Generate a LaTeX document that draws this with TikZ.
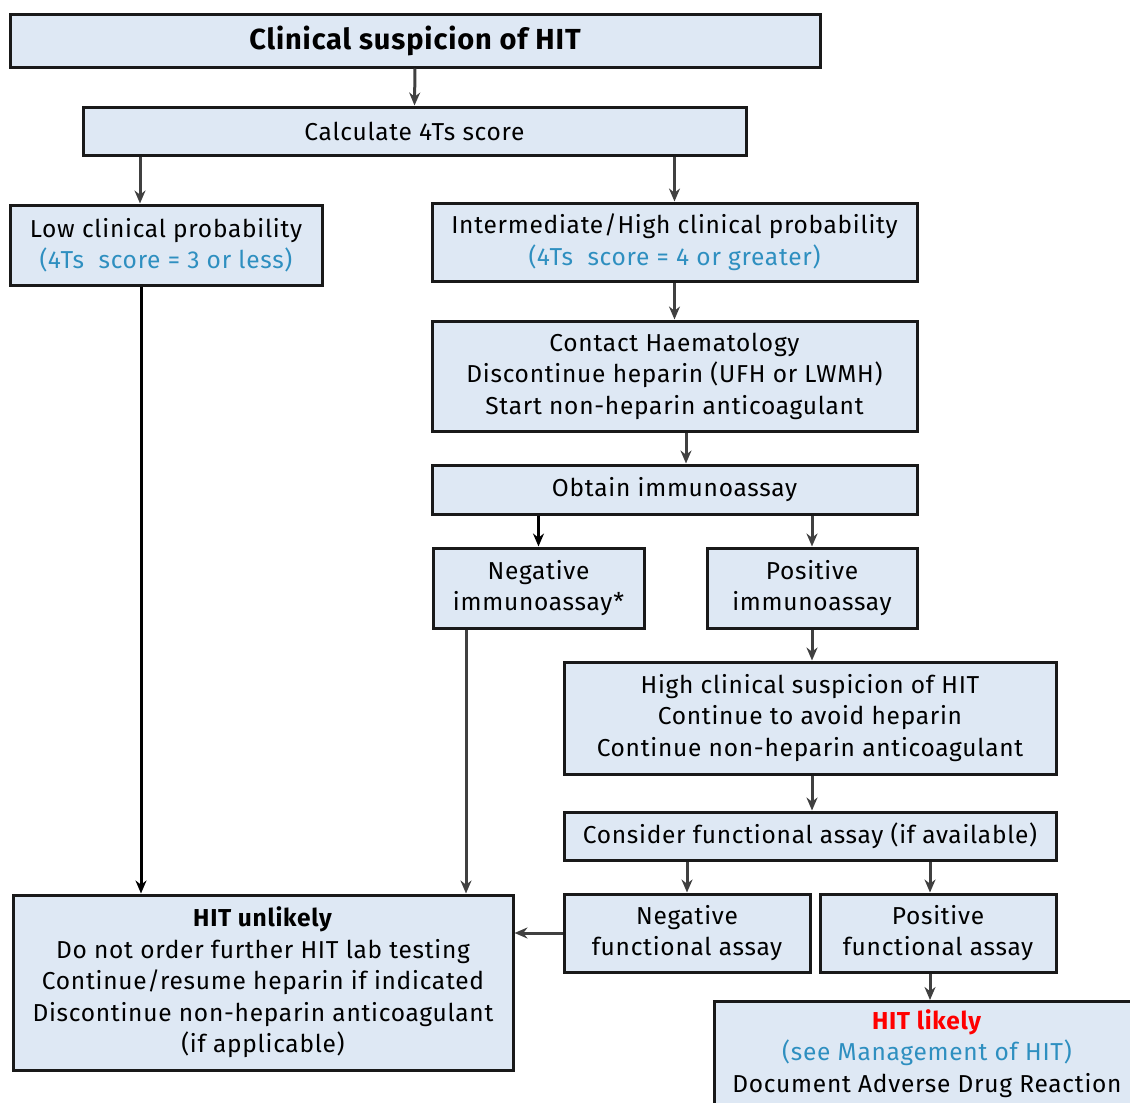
\documentclass[tikz,border=0pt]{standalone}
\usepackage{fontspec}
\setmainfont{Fira Sans}[LetterSpace=3]
\usetikzlibrary{arrows.meta}
\definecolor{boxfill}{HTML}{DEE8F4}
\definecolor{probblue}{HTML}{2E8FC0}
\definecolor{arrowgrey}{HTML}{404040}
\definecolor{hitred}{HTML}{FF0000}
\begin{document}
\begin{tikzpicture}
    [x=1pt,y=-1pt,
     every node/.style={draw=black!90, line width=3pt, fill=boxfill, align=center, inner sep=0pt,
       font=\fontsize{24.5}{31.5}\selectfont},
     flow/.style={-{Stealth[length=13pt,width=11pt]}, line width=3pt, draw=arrowgrey},
     darkflow/.style={flow, draw=black}]
    \useasboundingbox (0,0) rectangle (1130,1103);
    \clip (0,0) rectangle (1130,1103);

    \node[minimum width=810, minimum height=53, font=\fontsize{29}{32}\selectfont\bfseries] (start) at (415,40.5) {Clinical suspicion of HIT};
    \node[minimum width=663, minimum height=48] (calc) at (414.5,131) {Calculate 4Ts score};
    \node[minimum width=312, minimum height=80] (low) at (166,245) {Low clinical probability\\\textcolor{probblue}{(4Ts\ \ score = 3 or less)}};
    \node[minimum width=485, minimum height=78] (inter) at (674.5,242) {Intermediate/High clinical probability\\\textcolor{probblue}{(4Ts\ \ score = 4 or greater)}};
    \node[minimum width=485, minimum height=110] (contact) at (674.5,376) {Contact Haematology\\Discontinue heparin (UFH or LWMH)\\Start non-heparin anticoagulant};
    \node[minimum width=485, minimum height=49] (obtain) at (674.5,489.5) {Obtain immunoassay};
    \node[minimum width=211, minimum height=80] (negimm) at (538.5,588) {Negative\\immunoassay*};
    \node[minimum width=210, minimum height=80] (posimm) at (812,588) {Positive\\immunoassay};
    \node[minimum width=492, minimum height=112] (high) at (810,718) {High clinical suspicion of HIT\\Continue to avoid heparin\\Continue non-heparin anticoagulant};
    \node[minimum width=492, minimum height=48] (consider) at (810,836) {Consider functional assay (if available)};
    \node[minimum width=246, minimum height=78] (negfun) at (687,933) {Negative\\functional assay};
    \node[minimum width=236, minimum height=78] (posfun) at (938,933) {Positive\\functional assay};
    \node[minimum width=500, minimum height=175] (unlikely) at (263,982.5) {\textbf{HIT unlikely}\\Do not order further HIT lab testing\\Continue/resume heparin if indicated\\Discontinue non-heparin anticoagulant\\(if applicable)};
    \node[minimum width=426, anchor=north, inner ysep=8pt] (likely) at (927,1000) {\textcolor{hitred}{\textbf{HIT likely}}\\\textcolor{probblue}{(see Management of HIT)}\\Document Adverse Drug Reaction};

    \draw[flow] (start.south) -- (calc.north);
    \draw[flow] ([xshift=-26]low.north |- calc.south) -- ([xshift=-26]low.north);
    \draw[flow] (calc.south -| inter) -- (inter.north);
    \draw[flow] (inter.south) -- (contact.north);
    \draw[flow] ([xshift=11.5]obtain.north |- contact.south) -- ([xshift=11.5]obtain.north);
    \draw[darkflow] (obtain.south -| negimm) -- (negimm.north);
    \draw[flow] (obtain.south -| posimm) -- (posimm.north);
    \draw[flow] (posimm.south) -- (high.north -| posimm);
    \draw[flow] (high.south -| posimm) -- (consider.north -| posimm);
    \draw[flow] (consider.south -| negfun) -- (negfun.north);
    \draw[flow] ([xshift=-8]posfun.north |- consider.south) -- ([xshift=-8]posfun.north);
    \draw[flow] ([xshift=-8]posfun.south) -- ([xshift=-8]posfun.south |- likely.north);
    \draw[darkflow] ([xshift=-25]low.south) -- ([xshift=-25]low.south |- unlikely.north);
    \draw[flow] ([xshift=-72.5]negimm.south) -- ([xshift=-72.5]negimm.south |- unlikely.north);
    \draw[flow] (negfun.west) -- (negfun.west -| unlikely.east);
\end{tikzpicture}
\end{document}
